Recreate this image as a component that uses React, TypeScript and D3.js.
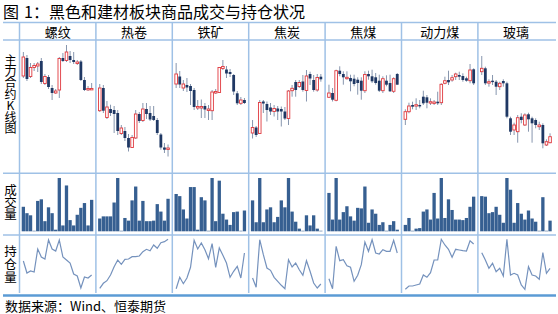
import React from 'react';
import * as d3 from 'd3';

const W = 558;
const H = 314;
const FONT = '"Noto Sans CJK SC", "Noto Sans", sans-serif';

const titlePrefix = '图';
const titleNumber = '1：';
const titleText = '黑色和建材板块商品成交与持仓状况';
const source = '数据来源：Wind、恒泰期货';
const categories = ['螺纹', '热卷', '铁矿', '焦炭', '焦煤', '动力煤', '玻璃'];
const rowLabelK = '主力合约K线图';
const rowLabelVol = '成交量';
const rowLabelOI = '持仓量';

// K line: [open, high, low, close] (index level)
const klineRebar = [
  [124, 148, 122, 143], [142, 145, 119, 121], [123.5, 137, 122, 132.5], [132.5, 137, 129, 134.5],
  [134, 138, 128, 136], [139, 142, 116, 118], [116.5, 126, 115, 123.5], [123, 125, 111, 113],
  [112, 115, 100, 107], [107, 111, 106, 109], [110, 143, 102, 141.5], [142, 147, 138, 139],
  [139.5, 155, 138, 148], [144, 149, 137, 140], [140, 148, 136, 138], [136.5, 140, 135, 138],
  [138.5, 140, 119, 120], [120, 123, 109, 110], [110.5, 114, 109, 111.5], [110.5, 117, 110, 111.5],
];
const klineHotCoil = [
  [89.3, 116, 88, 112], [112, 115, 87, 89.3], [82.5, 99, 81, 93], [91, 95.3, 84, 87],
  [90, 94, 67, 86], [87, 90, 65, 69], [66.5, 75, 65, 72], [69, 73, 59, 62],
  [62, 66, 48.5, 52.5], [52.5, 65, 52, 62.5], [62, 90, 61, 86], [86, 88, 77, 79],
  [79.5, 97, 78, 91], [91, 97, 81, 86], [87, 94, 79, 80.5], [84, 94, 79, 80],
  [80, 82, 65, 67], [65.5, 67, 50.3, 52.5], [52.5, 57, 47, 50.3], [51, 55.5, 43.5, 52],
];
const klineIronOre = [
  [116, 137, 112, 126], [123.5, 129, 112, 115.5], [112, 120, 109, 116], [115, 122, 108, 112.5],
  [114, 116, 95, 109], [110, 112, 90, 93], [92, 100, 90, 93.5], [92, 100.5, 82, 93.5],
  [94, 97, 82, 90.5], [89.5, 95, 80, 91], [89.3, 110, 80, 108], [107, 111, 106, 108.5],
  [107.5, 133, 107, 132.5], [131.5, 140, 130, 133.5], [130.5, 134, 122, 126.5], [128, 131, 123, 126],
  [125, 126, 105, 108.5], [106.7, 109, 95, 96.7], [96.7, 103, 95, 100], [100, 102, 96, 97],
];
const klineCoke = [
  [67, 80, 61.5, 72.5], [72.5, 74, 63, 65], [66.5, 100, 66, 97.5], [98.5, 100, 87, 96.5],
  [96, 98.5, 78.5, 90], [92.5, 97, 85, 88.5], [88.5, 95, 83.5, 91.5], [91.5, 94, 80, 88.5],
  [91, 93.5, 73.5, 88.5], [88.5, 93, 80, 81.5], [81.5, 110, 75, 109], [109.3, 115, 103.3, 111.7],
  [118, 120, 103.3, 110], [113.5, 120, 112, 117.5], [118.5, 125, 108.3, 110], [109.5, 130, 98.5, 124],
  [126, 128.3, 115, 121.5], [120, 125, 108.3, 110], [110, 126, 108.3, 122.5], [123.3, 126, 118.3, 120.7],
];
const klineCokingCoal = [
  [102.7, 115.3, 102, 107], [107, 112, 98.5, 100.3], [99.7, 130.3, 98.7, 129.3], [129.3, 133.7, 123.7, 126],
  [126, 128.7, 115.3, 122.7], [121.3, 128.7, 120.3, 122.7], [122, 125.3, 108.7, 118.7], [121.3, 125.3, 113.7, 116],
  [120.3, 122.7, 105.3, 117], [119.3, 122.7, 100.3, 109.3], [109.3, 128.7, 107, 125.5], [126, 129.3, 120.3, 123.7],
  [123.7, 130.3, 117, 118.7], [122.7, 127, 115.3, 117], [119.3, 125.3, 108, 109.3], [109.3, 123.7, 107, 121.3],
  [119.3, 124.7, 113.7, 115.3], [117, 125.3, 108, 108.7], [108.7, 122.7, 107, 121.3], [126, 127, 115.3, 115.3],
];
const klineThermalCoal = [
  [80.7, 90.7, 75, 88.3], [88.3, 97.3, 86.7, 94], [95, 98.3, 90.7, 93.3], [94.3, 101.7, 90, 95.3],
  [95, 100, 91.7, 94], [103.3, 109.3, 95, 96.7], [102.7, 105, 91.7, 97.3], [97.3, 101.7, 95, 98.3],
  [97, 100, 95, 98], [98.3, 108.3, 95, 96.7], [97.3, 116.7, 95, 115.7], [116.7, 123.3, 115.7, 119.3],
  [120, 129.3, 115, 117.7], [120, 125, 118.3, 122.3], [123.3, 127.3, 120, 126], [125, 128.3, 120, 123.3],
  [124, 126.7, 118.3, 120], [121.7, 123.3, 118.3, 119.3], [119.3, 136, 116.7, 130], [130.7, 131.7, 115, 116.7],
];
const klineGlass = [
  [128.3, 144, 125, 131.7], [131.7, 133.3, 115, 116.7], [117.3, 120.7, 113.3, 118.3], [119.3, 125, 115, 118.3],
  [118.3, 120, 105, 113.3], [113.3, 118.3, 110, 116.7], [119, 120.7, 113.3, 116.7], [116.7, 118.3, 81.7, 83.3],
  [81.7, 83.3, 65, 68.3], [70, 77.3, 65, 75], [68.3, 85, 57.3, 82.3], [83.3, 86.7, 76.7, 80],
  [75, 86.7, 74, 85], [85.7, 87.3, 68.3, 80.7], [81.7, 83.3, 57.3, 76.7], [80, 81.7, 71.7, 75],
  [73.3, 78.3, 70, 75], [75, 76.7, 51.7, 56.7], [55, 60.7, 54, 58.3], [57.3, 66.7, 56.7, 63.3],
];

// Volume (relative, max = 100 per contract)
const volRebar = [46, 34, 30, 1, 57, 60, 19, 45, 34, 3, 100, 11, 86, 21, 11, 31, 44, 53, 11, 59];
const volHotCoil = [24, 28, 28, 28, 54, 100, 1, 25, 20, 58, 84, 20, 57, 19, 19, 20, 51, 37, 20, 61];
const volIronOre = [70, 66, 41, 24, 83, 83, 3, 64, 58, 1, 100, 19, 95, 33, 22, 12, 36, 37, 1, 39];
const volCoke = [58, 17, 100, 17, 41, 45, 17, 27, 58, 45, 100, 37, 18, 5, 1, 30, 11, 30, 5, 1];
const volCokingCoal = [72, 22, 100, 22, 36, 47, 28, 20, 44, 43, 84, 16, 41, 33, 12, 17, 1, 12, 19, 3];
const volThermalCoal = [12, 25, 1, 5, 6, 37, 41, 22, 72, 24, 100, 25, 60, 40, 22, 22, 21, 25, 46, 65];
const volGlass = [66, 65, 34, 36, 46, 31, 16, 100, 78, 16, 53, 33, 22, 39, 24, 18, 1, 64, 1, 20];

// Open interest (relative level)
const oiRebar = [34, 22, 24, 23, 46, 38, 36, 55, 46, 44, 55, 38, 35, 32, 21, 19, 7, 18, 17, 20];
const oiHotCoil = [6.7, 11.7, 14.3, 20, 28.3, 35, 30.7, 35.7, 36, 38.3, 38.3, 39, 43.3, 45.7, 44.3, 50, 46.7, 52.3, 53.3, 55.7];
const oiIronOre = [6.3, 17.7, 11.3, 17, 27.7, 54.7, 46, 52, 45.3, 36.3, 51.3, 27.7, 47, 39.7, 32, 17.7, 23.7, 28.7, 17, 42];
const oiCoke = [17, 7.7, 55.3, 40.3, 27, 24.7, 17.7, 13.7, 9.7, 6.3, 35.3, 28, 32, 25.3, 19.7, 34.3, 23.7, 12, 7, 11];
const oiCokingCoal = [16.3, 6.3, 48.7, 34.3, 35.3, 29.3, 27.7, 13.7, 19.7, 30.3, 53, 43.7, 55.3, 42, 41, 45.3, 43.7, 43.7, 54.7, 42];
const oiThermalCoal = [5.7, 9, 9, 10, 11, 20, 17.7, 22.3, 35, 35, 55.7, 50, 45.7, 37.7, 45.7, 45, 44.3, 44, 54.3, 51];
const oiGlass = [42.3, 35, 26.7, 31.7, 23.3, 26.7, 19, 55.7, 20, 21.7, 20, 10, 5.7, 28.3, 20, 19, 15.7, 42.3, 21.7, 26.7];

const klines = [klineRebar, klineHotCoil, klineIronOre, klineCoke, klineCokingCoal, klineThermalCoal, klineGlass];
const vols = [volRebar, volHotCoil, volIronOre, volCoke, volCokingCoal, volThermalCoal, volGlass];
const ois = [oiRebar, oiHotCoil, oiIronOre, oiCoke, oiCokingCoal, oiThermalCoal, oiGlass];

const GRID = '#9fc1e6';
const UP = '#e0393e';
const DOWN = '#1f3864';
const WICK = '#8796ae';
const BAR = '#365f91';
const LINE = '#7592bd';

const vertical: React.CSSProperties = { writingMode: 'vertical-rl' as any, textOrientation: 'upright' as any };

export default function App() {
  const left = 3;
  const right = 556;
  const yTitleLine = 22.5;
  const yHeader = 40;
  const yK1 = 173.3;
  const yV1 = 235;
  const yGridEnd = 293;
  const yBottom = 295.5;

  const col = d3.scaleBand<string>().domain(categories).range([19.5, 554.3]);
  const yK = d3.scaleLinear().domain([40, 160]).range([160, 40]);
  const yOI = d3.scaleLinear().domain([0, 60]).range([295, 235]);
  const idx = d3.range(20).map(String);

  const vLines = categories.map((c) => col(c) as number);

  return (
    <svg
      width={W}
      height={H}
      viewBox={`0 0 ${W} ${H}`}
      style={{ position: 'absolute', left: 0, top: 0, background: '#fff' }}
      fontFamily={FONT}
    >
      <rect x={0} y={0} width={W} height={H} fill="#fff" />
      <text y={17.5} fontSize={16} fill="#000">
        <tspan x={3}>{titlePrefix}</tspan>
        <tspan x={24}>{titleNumber}</tspan>
        <tspan x={49}>{titleText}</tspan>
      </text>

      {/* grid */}
      <line x1={left} x2={right} y1={yTitleLine} y2={yTitleLine} stroke={GRID} strokeWidth={1.5} />
      <line x1={left} x2={right} y1={yHeader} y2={yHeader} stroke={GRID} strokeWidth={1.5} />
      <line x1={left} x2={right} y1={yK1} y2={yK1} stroke={GRID} strokeWidth={1.5} />
      <line x1={left} x2={right} y1={yV1} y2={yV1} stroke={GRID} strokeWidth={1.5} />
      {vLines.map((x, i) => (
        <line key={i} x1={x} x2={x} y1={yTitleLine} y2={yGridEnd} stroke={GRID} strokeWidth={1.5} />
      ))}
      <line x1={left} x2={right} y1={yBottom} y2={yBottom} stroke="#5b9bd5" strokeWidth={2.5} />

      {/* header labels */}
      {categories.map((c) => (
        <text key={c} x={(col(c) as number) + col.bandwidth() / 2} y={36.5} fontSize={13} textAnchor="middle" fill="#000">{c}</text>
      ))}

      {/* row labels (vertical) */}
      <text x={10.5} y={54} fontSize={12} letterSpacing={-0.6} fill="#000" style={vertical}>{rowLabelK}</text>
      <text x={10.5} y={184} fontSize={12.5} letterSpacing={-0.3} fill="#000" style={vertical}>{rowLabelVol}</text>
      <text x={10.5} y={245} fontSize={12.5} letterSpacing={0.5} fill="#000" style={vertical}>{rowLabelOI}</text>

      {categories.map((c, k) => {
        const x0 = col(c) as number;
        const xb = d3.scaleBand<string>().domain(idx).range([x0 + 2.2, x0 + col.bandwidth() - 2.6]).paddingInner(0.08);
        const cx = (i: number) => (xb(String(i)) as number) + xb.bandwidth() / 2;
        const vol = vols[k];
        const yV = d3.scaleLinear().domain([0, d3.max(vol) as number]).range([231.3, 178]);
        const oi = ois[k];
        const line = d3.line<number>().x((_, i) => cx(i)).y((d) => yOI(d));
        return (
          <g key={c}>
            {klines[k].map(([o, h, l, cl], i) => {
              const up = cl >= o;
              const top = yK(Math.max(o, cl));
              const hgt = Math.max(Math.abs(yK(o) - yK(cl)), 1.4);
              const x = cx(i);
              return (
                <g key={i}>
                  <line x1={x} x2={x} y1={yK(h)} y2={yK(l)} stroke={WICK} strokeWidth={1} />
                  {up ? (
                    <rect x={x - 1.3} y={top} width={2.6} height={hgt} fill="#fff" stroke={UP} strokeWidth={0.9} />
                  ) : (
                    <rect x={x - 1.4} y={top} width={2.8} height={hgt} fill={DOWN} />
                  )}
                </g>
              );
            })}
            {vol.map((v, i) => (
              <rect key={'b' + i} x={xb(String(i))} y={yV(v)} width={xb.bandwidth()} height={231.3 - yV(v)} fill={BAR} />
            ))}
            <path d={line(oi) as string} fill="none" stroke={LINE} strokeWidth={1.2} />
          </g>
        );
      })}

      <text x={5} y={311} fontSize={13} fill="#000">{source}</text>
    </svg>
  );
}
